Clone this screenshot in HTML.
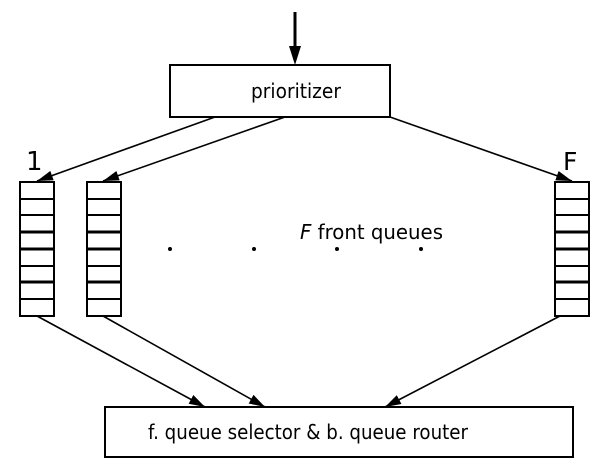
<!DOCTYPE html>
<html><head><style>body{margin:0;background:#fff}svg{display:block}text{font-family:"DejaVu Sans","Liberation Sans",sans-serif}</style></head><body>
<svg width="600" height="476" viewBox="0 0 600 476">
<defs>
<marker id="b" markerWidth="16" markerHeight="10" refX="16" refY="5" orient="auto" markerUnits="userSpaceOnUse"><path d="M0,0 L16,5 L0,10 z" fill="#000"/></marker>
</defs>
<g stroke="#000" fill="none">
<line x1="295" y1="12" x2="295" y2="48" stroke-width="3"/>
<path d="M289,46 L301,46 L295,65 z" fill="#000" stroke="none"/>
<rect x="170" y="65" width="220" height="52" stroke-width="2"/>
<line x1="215" y1="117" x2="37" y2="181" stroke-width="1.6" marker-end="url(#b)"/>
<line x1="285" y1="117" x2="103" y2="181" stroke-width="1.6" marker-end="url(#b)"/>
<line x1="390" y1="117" x2="572" y2="181" stroke-width="1.6" marker-end="url(#b)"/>
<line x1="37" y1="316" x2="205" y2="407" stroke-width="1.6" marker-end="url(#b)"/>
<line x1="103" y1="316" x2="265" y2="407" stroke-width="1.6" marker-end="url(#b)"/>
<line x1="560" y1="316" x2="385" y2="407" stroke-width="1.6" marker-end="url(#b)"/>
<rect x="105" y="407" width="468" height="50" stroke-width="2"/>
</g>
<g stroke="#000" stroke-width="2" fill="none">
<rect x="20" y="182" width="34" height="134"/>
<rect x="87" y="182" width="34" height="134"/>
<rect x="555" y="182" width="34" height="134"/>
<path d="M20,199H54M20,215H54M20,232H54M20,249H54M20,266H54M20,282H54M20,299H54 M87,199H121M87,215H121M87,232H121M87,249H121M87,266H121M87,282H121M87,299H121 M555,199H589M555,215H589M555,232H589M555,249H589M555,266H589M555,282H589M555,299H589"/>
</g>
<path d="M20,232H54M20,249H54M20,282H54M87,232H121M87,249H121M87,282H121M555,232H589M555,249H589M555,282H589" stroke="#000" stroke-width="3"/>
<g fill="#000"><circle cx="170" cy="249" r="2"/><circle cx="254" cy="249" r="2"/><circle cx="337" cy="249" r="2"/><circle cx="421" cy="249" r="2"/></g>
<text x="296" y="98" font-size="20" text-anchor="middle" textLength="90" lengthAdjust="spacingAndGlyphs">prioritizer</text>
<text x="308" y="439" font-size="20" text-anchor="middle" textLength="320" lengthAdjust="spacingAndGlyphs">f. queue selector &amp; b. queue router</text>
<text x="300" y="239" font-size="20" textLength="143" lengthAdjust="spacingAndGlyphs"><tspan font-style="italic">F</tspan> front queues</text>
<text x="26" y="170" font-size="26" font-family="Liberation Serif,serif">1</text>
<text x="563" y="170" font-size="25">F</text>
</svg></body></html>
